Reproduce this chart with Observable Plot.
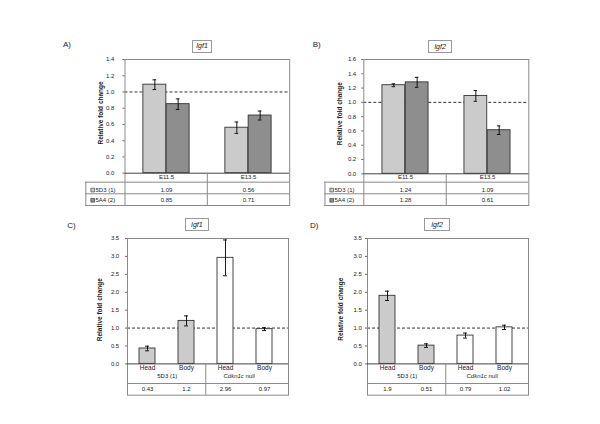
<!DOCTYPE html>
<html><head><meta charset="utf-8">
<script src="https://cdn.jsdelivr.net/npm/d3@7"></script>
<script src="https://cdn.jsdelivr.net/npm/@observablehq/plot@0.6"></script>
<style>
body{margin:0;background:#fff;}
#root{position:relative;width:600px;height:424px;overflow:hidden;background:#fff;font-family:"Liberation Sans",Arial,sans-serif;color:#222;}
.letter{position:absolute;font-size:8px;line-height:10px;}
.tbox{position:absolute;border:1px solid #9a9a9a;box-sizing:border-box;font-style:italic;font-size:7px;text-align:center;}
</style></head><body><div id="root"></div>
<script>
// ---- data ----
const stageCategories = ["E11.5", "E13.5"];
const seriesNames = ["5D3 (1)", "5A4 (2)"];
const igf1Stage5D3 = [1.09, 0.56];
const igf1Stage5D3Err = [0.06, 0.07];
const igf1Stage5A4 = [0.85, 0.71];
const igf1Stage5A4Err = [0.065, 0.055];
const igf2Stage5D3 = [1.24, 1.09];
const igf2Stage5D3Err = [0.02, 0.075];
const igf2Stage5A4 = [1.28, 0.61];
const igf2Stage5A4Err = [0.07, 0.06];
const tissueParts = ["Head", "Body", "Head", "Body"];
const tissueGroups = ["5D3 (1)", "5D3 (1)", "Cdkn1c null", "Cdkn1c null"];
const igf1Tissue = [0.43, 1.2, 2.96, 0.97];
const igf1TissueErr = [0.065, 0.14, 0.5, 0.04];
const igf2Tissue = [1.9, 0.51, 0.79, 1.02];
const igf2TissueErr = [0.13, 0.05, 0.07, 0.06];
const ticksA = [0, 0.2, 0.4, 0.6, 0.8, 1.0, 1.2, 1.4];
const ticksB = [0, 0.2, 0.4, 0.6, 0.8, 1.0, 1.2, 1.4, 1.6];
const ticksCD = [0, 0.5, 1.0, 1.5, 2.0, 2.5, 3.0, 3.5];
const yLabel = "Relative fold change";

// ---- styles ----
const LIGHT = "#cbcbcb", DARK = "#8e8e8e", EDGE = "#333", FRAME = "#8a8a8a", INK = "#222";
const FONT = "'Liberation Sans', Arial, sans-serif";
const root = document.getElementById("root");

function place(el, left, top) {
  el.style.position = "absolute";
  el.style.left = left + "px";
  el.style.top = top + "px";
  root.appendChild(el);
}
function addDiv(cls, text, left, top, w, h) {
  const d = document.createElement("div");
  d.className = cls;
  d.textContent = text;
  if (w) { d.style.width = w + "px"; d.style.height = h + "px"; d.style.lineHeight = (h - 2) + "px"; }
  place(d, left, top);
}
const T = {lineAnchor: "middle", fontSize: 6};

function groupedPanel(c) {
  const cats = c.cats, idx = d3.range(cats.length);
  const left = c.tableLeft - 8, top = c.fy1 - 8, right = c.fx2 + 6, bottom = c.rowLines[2] + 6;
  const width = right - left, height = bottom - top;
  const W = c.fx2 - c.fx1, bw = W / cats.length;
  const barW = 23.3, gap = (bw - 2 * barW) / 2;
  const off = v => v - c.fy2;
  const ext = c.fx1 - c.tableLeft;
  const err = (vals, errs, dx) => [
    Plot.ruleX(idx, {x: i => cats[i], y1: i => vals[i] - errs[i], y2: i => vals[i] + errs[i], dx, stroke: "#000", strokeWidth: 0.9}),
    Plot.tickY(idx, {x: i => cats[i], y: i => vals[i] - errs[i], dx, insetLeft: bw / 2 - 2, insetRight: bw / 2 - 2, stroke: "#000", strokeWidth: 0.9}),
    Plot.tickY(idx, {x: i => cats[i], y: i => vals[i] + errs[i], dx, insetLeft: bw / 2 - 2, insetRight: bw / 2 - 2, stroke: "#000", strokeWidth: 0.9})
  ];
  const svg = Plot.plot({
    width, height,
    marginLeft: c.fx1 - left, marginRight: right - c.fx2,
    marginTop: c.fy1 - top, marginBottom: bottom - c.fy2,
    style: {fontFamily: FONT, background: "transparent", color: INK, overflow: "visible"},
    x: {type: "band", domain: cats, padding: 0, axis: null},
    y: {domain: [0, c.ymax]},
    marks: [
      Plot.ruleY([1], {stroke: "#000", strokeDasharray: "3,2", strokeWidth: 0.8}),
      Plot.barY(idx, {x: i => cats[i], y: i => c.s1[i], fill: LIGHT, stroke: EDGE, strokeWidth: 0.9, insetLeft: gap, insetRight: bw - gap - barW}),
      Plot.barY(idx, {x: i => cats[i], y: i => c.s2[i], fill: DARK, stroke: EDGE, strokeWidth: 0.9, insetLeft: gap + barW, insetRight: gap}),
      ...err(c.s1, c.e1, -barW / 2),
      ...err(c.s2, c.e2, barW / 2),
      Plot.frame({stroke: FRAME, insetBottom: -off(c.rowLines[2])}),
      Plot.ruleY([0], {stroke: "#444"}),
      ...c.rowLines.map(v => Plot.ruleY([0], {dy: off(v), insetLeft: -ext, stroke: FRAME})),
      Plot.ruleX([cats[0]], {dx: -bw / 2 - ext, y1: 0, y2: 0, insetTop: off(c.rowLines[0]), insetBottom: -off(c.rowLines[2]), stroke: FRAME}),
      Plot.ruleX(cats.slice(1), {dx: -bw / 2, y1: 0, y2: 0, insetBottom: -off(c.rowLines[2]), stroke: FRAME}),
      Plot.axisY({ticks: c.ticks, tickFormat: d3.format(".1f"), tickSize: 2, tickPadding: c.tickGap - 2, fontSize: 6, label: null, stroke: "#666"}),
      Plot.text([yLabel], {frameAnchor: "left", rotate: -90, dx: c.labelX - c.fx1, dy: c.labelDy, fontWeight: "bold", fontSize: 6.5, textAnchor: "middle", lineAnchor: "middle"}),
      Plot.text(idx, {...T, x: i => cats[i], text: i => cats[i], frameAnchor: "bottom", dy: off(c.rowText[0])}),
      Plot.text(idx, {...T, x: i => cats[i], text: i => String(c.s1[i]), frameAnchor: "bottom", dy: off(c.rowText[1])}),
      Plot.text(idx, {...T, x: i => cats[i], text: i => String(c.s2[i]), frameAnchor: "bottom", dy: off(c.rowText[2])}),
      Plot.dot([seriesNames[0]], {frameAnchor: "bottom-left", dx: -ext + 7.2, dy: off(c.rowText[1]), symbol: "square", r: 2.1, fill: LIGHT, stroke: EDGE, strokeWidth: 0.6}),
      Plot.dot([seriesNames[1]], {frameAnchor: "bottom-left", dx: -ext + 7.2, dy: off(c.rowText[2]), symbol: "square", r: 2.1, fill: DARK, stroke: EDGE, strokeWidth: 0.6}),
      Plot.text([seriesNames[0]], {...T, frameAnchor: "bottom-left", dx: -ext + 10, dy: off(c.rowText[1]), textAnchor: "start"}),
      Plot.text([seriesNames[1]], {...T, frameAnchor: "bottom-left", dx: -ext + 10, dy: off(c.rowText[2]), textAnchor: "start"})
    ]
  });
  place(svg, left, top);
}

function tissuePanel(c) {
  const keys = tissueParts.map((p, i) => tissueGroups[i] + " " + p);
  const n = keys.length, pi = 0.594, po = 0.337, align = 0.41;
  const idx = d3.range(n);
  const left = c.fx1 - 40, top = c.fy1 - 8, right = c.fx2 + 6, bottom = c.bottomY + 6;
  const width = right - left, height = bottom - top;
  const W = c.fx2 - c.fx1;
  const step = W / (n - pi + 2 * po), bw = step * (1 - pi);
  const off = v => v - c.fy2;
  const mutant = idx.filter(i => tissueGroups[i] !== tissueGroups[0]);
  const wild = idx.filter(i => tissueGroups[i] === tissueGroups[0]);
  const [gene, suffix] = tissueGroups[2].split(" ");
  const svg = Plot.plot({
    width, height,
    marginLeft: c.fx1 - left, marginRight: right - c.fx2,
    marginTop: c.fy1 - top, marginBottom: bottom - c.fy2,
    style: {fontFamily: FONT, background: "transparent", color: INK, overflow: "visible"},
    x: {type: "band", domain: keys, paddingInner: pi, paddingOuter: po, align, axis: null},
    y: {domain: [0, c.ymax]},
    marks: [
      Plot.ruleY([1], {stroke: "#000", strokeDasharray: "3,2", strokeWidth: 0.8}),
      Plot.barY(wild, {x: i => keys[i], y: i => c.values[i], fill: LIGHT, stroke: EDGE, strokeWidth: 0.9}),
      Plot.barY(mutant, {x: i => keys[i], y: i => c.values[i], fill: "#fff", stroke: EDGE, strokeWidth: 0.9}),
      Plot.ruleX(idx, {x: i => keys[i], y1: i => c.values[i] - c.errs[i], y2: i => c.values[i] + c.errs[i], stroke: "#000", strokeWidth: 0.9}),
      Plot.tickY(idx, {x: i => keys[i], y: i => c.values[i] - c.errs[i], insetLeft: bw / 2 - 2, insetRight: bw / 2 - 2, stroke: "#000", strokeWidth: 0.9}),
      Plot.tickY(idx, {x: i => keys[i], y: i => c.values[i] + c.errs[i], insetLeft: bw / 2 - 2, insetRight: bw / 2 - 2, stroke: "#000", strokeWidth: 0.9}),
      Plot.frame({stroke: FRAME, insetBottom: -off(c.bottomY)}),
      Plot.ruleY([0], {stroke: "#444"}),
      Plot.ruleY([0], {dy: off(c.valueLine), stroke: FRAME}),
      Plot.ruleX([keys[2]], {dx: -step / 2, y1: 0, y2: 0, insetBottom: -off(c.bottomY), stroke: FRAME}),
      Plot.axisY({ticks: c.ticks, tickFormat: d3.format(".1f"), tickSize: 2, tickPadding: c.tickGap - 2, fontSize: 6, label: null, stroke: "#666"}),
      Plot.text([yLabel], {frameAnchor: "left", rotate: -90, dx: c.labelX - c.fx1, dy: c.labelDy, fontWeight: "bold", fontSize: 6.5, textAnchor: "middle", lineAnchor: "middle"}),
      Plot.text(idx, {...T, x: i => keys[i], text: i => tissueParts[i], frameAnchor: "bottom", dy: off(c.headerY), fontSize: 6.5}),
      Plot.text([tissueGroups[0]], {...T, x: () => keys[0], dx: step / 2, frameAnchor: "bottom", dy: off(c.groupY)}),
      Plot.text([gene], {...T, x: () => keys[2], dx: step / 2 + 4.6 + c.groupShift, frameAnchor: "bottom", dy: off(c.groupY), fontStyle: "italic", textAnchor: "end"}),
      Plot.text([suffix], {...T, x: () => keys[2], dx: step / 2 + 6.3 + c.groupShift, frameAnchor: "bottom", dy: off(c.groupY), textAnchor: "start"}),
      Plot.text(idx, {...T, x: i => keys[i], text: i => String(c.values[i]), frameAnchor: "bottom", dy: off(c.valueY)})
    ]
  });
  place(svg, left, top);
}

groupedPanel({cats: stageCategories, s1: igf1Stage5D3, e1: igf1Stage5D3Err, s2: igf1Stage5A4, e2: igf1Stage5A4Err,
  ymax: 1.4, ticks: ticksA, fx1: 124, fx2: 288.7, fy1: 59, fy2: 172.7, tableLeft: 84.5,
  rowLines: [181.7, 193.3, 205], rowText: [176.8, 189.6, 199.8], labelX: 100, labelDy: -3.4, tickGap: 10.7});
groupedPanel({cats: stageCategories, s1: igf2Stage5D3, e1: igf2Stage5D3Err, s2: igf2Stage5A4, e2: igf2Stage5A4Err,
  ymax: 1.6, ticks: ticksB, fx1: 363.3, fx2: 528.3, fy1: 59, fy2: 173.3, tableLeft: 324,
  rowLines: [181.7, 193.3, 205], rowText: [176.8, 189.6, 199.8], labelX: 339.3, labelDy: -3, tickGap: 7.6});
tissuePanel({values: igf1Tissue, errs: igf1TissueErr, ymax: 3.5, ticks: ticksCD, fx1: 127.3, fx2: 288.3, fy1: 238.3, fy2: 363.7,
  headerY: 367.3, groupY: 375.7, valueLine: 383.3, valueY: 389, bottomY: 395, labelX: 100, labelDy: 8.5, tickGap: 8.3, groupShift: -6});
tissuePanel({values: igf2Tissue, errs: igf2TissueErr, ymax: 3.5, ticks: ticksCD, fx1: 366.7, fx2: 527.7, fy1: 238.3, fy2: 363.7,
  headerY: 367.3, groupY: 375.7, valueLine: 383.3, valueY: 389, bottomY: 395, labelX: 339.8, labelDy: 8, tickGap: 5.7, groupShift: -3});

// panel letters and gene title boxes
addDiv("letter", "A)", 63, 40);
addDiv("letter", "B)", 312.7, 40);
addDiv("letter", "C)", 67.3, 221);
addDiv("letter", "D)", 310, 221);
addDiv("tbox", "Igf1", 191.7, 40, 20.6, 12.7);
addDiv("tbox", "Igf2", 427.7, 40, 24.6, 13);
addDiv("tbox", "Igf1", 184.7, 218, 24.3, 13);
addDiv("tbox", "Igf2", 424, 217.7, 26, 13.3);
</script></body></html>
